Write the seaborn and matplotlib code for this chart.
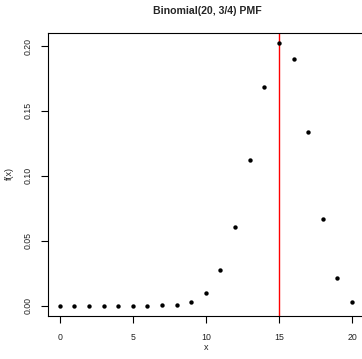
import matplotlib
matplotlib.use("Agg")
import matplotlib.pyplot as plt
import seaborn as sns
import pandas as pd

k_values = list(range(21))
pmf_values = [9.1e-13, 5.5e-11, 1.6e-09, 3.0e-08, 4.0e-07, 3.6e-06, 2.71e-05,
              0.000160, 0.000752, 0.00301, 0.00992, 0.0271, 0.0609, 0.1124,
              0.1686, 0.2023, 0.1897, 0.1339, 0.0669, 0.0211, 0.00317]
mode_x = 15
x_ticks = [0, 5, 10, 15, 20]
y_ticks = [0.00, 0.05, 0.10, 0.15, 0.20]
y_tick_labels = ["0.00", "0.05", "0.10", "0.15", "0.20"]

sns.set_style("white")
plt.rcParams['font.family'] = ['Liberation Sans', 'DejaVu Sans']

df = pd.DataFrame({"x": k_values, "f": pmf_values})

fig = plt.figure(figsize=(3.62, 3.59), dpi=100)
ax = fig.add_axes([48/362, (359-316.2)/359, (363.7-48)/362, (316.2-32.5)/359])

sns.scatterplot(data=df, x="x", y="f", ax=ax, color="black", s=10,
                edgecolor="black", linewidth=0, zorder=3)
ax.axvline(mode_x, color="#ff0000", lw=1.0, zorder=2)

ax.set_xlim(-0.8, 20.8)
ax.set_ylim(-0.0081, 0.2104)
ax.set_xticks(x_ticks)
ax.set_xticklabels([str(t) for t in x_ticks])
ax.set_yticks(y_ticks)
ax.set_yticklabels(y_tick_labels, rotation=90, va="center")

for s in ax.spines.values():
    s.set_visible(True)
    s.set_color("black")
    s.set_linewidth(0.8)

ax.tick_params(axis="both", direction="out", length=5, width=0.8,
               color="black", labelsize=6.3, labelcolor="#222222",
               bottom=True, left=True)
ax.tick_params(axis="x", pad=7)
ax.tick_params(axis="y", pad=6)

ax.set_xlabel("")
ax.set_ylabel("")
fig.text(206/362, 1 - 348/359, "x", ha="center", va="center", fontsize=6.5,
         color="#222222")
fig.text(9/362, 1 - 174/359, "f(x)", ha="center", va="center", fontsize=6.5,
         rotation=90, color="#222222")
fig.text(207/362, 1 - 10.5/359, "Binomial(20, 3/4) PMF", ha="center", va="center",
         fontsize=7.6, fontweight="bold")

fig.savefig("out.png", dpi=100)
